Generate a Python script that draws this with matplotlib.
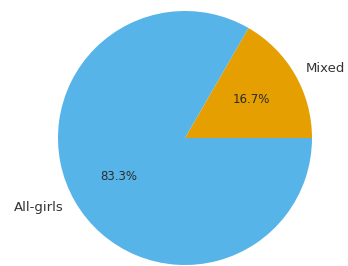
import matplotlib.pyplot as plt

labels = ['Mixed', 'All-girls']
counts = [1, 5]
colors = ['#E69F00', '#56B4E9']

W, H = 348, 266
cx, cy, r = 185, 138, 127

fig = plt.figure(figsize=(W / 100, H / 100), dpi=100)
ax = fig.add_axes([(cx - r) / W, (H - cy - r) / H, 2 * r / W, 2 * r / H])

wedges, texts, autotexts = ax.pie(counts, labels=labels, colors=colors,
                                  autopct='%1.1f%%', startangle=0,
                                  textprops={'fontsize': 9.5, 'color': '#333333'})
for t in autotexts:
    t.set_fontsize(8.5)
    t.set_color('#2b2b2b')

ax.set_xlim(-1, 1)
ax.set_ylim(-1, 1)
ax.set_aspect('equal')

fig.savefig('out.png', dpi=100)
